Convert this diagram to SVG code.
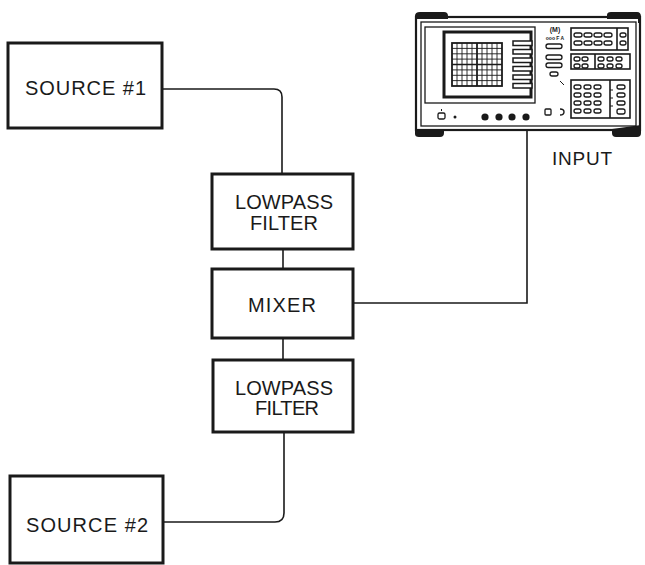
<svg xmlns="http://www.w3.org/2000/svg" width="645" height="565" viewBox="0 0 645 565">
<style>
.box{fill:#fff;stroke:#1a1a1a;stroke-width:3}
.wire{fill:none;stroke:#1a1a1a;stroke-width:1.6}
.lbl{font-family:"Liberation Sans",Arial,sans-serif;font-size:20px;fill:#1a1a1a;text-anchor:middle}
.ln{fill:none;stroke:#1a1a1a}
.ov{fill:#fff;stroke:#1a1a1a;stroke-width:1.3}
.tiny{font-family:"Liberation Sans",Arial,sans-serif;font-weight:bold;text-anchor:middle;fill:#1a1a1a}
</style>
<rect width="645" height="565" fill="#fff"/>
<g id="connectors">
<path class="wire" d="M162,89 H274 Q282,89 282,97 V174"/>
<path class="wire" d="M283,249 V269"/>
<path class="wire" d="M283,338 V360"/>
<path class="wire" d="M284,432 V513 Q284,522 275,522 H163"/>
<path class="wire" d="M353,303 H527 V131"/>
</g>
<g id="source1">
<rect class="box" x="8" y="43" width="154" height="85"/>
<text class="lbl" x="85.5" y="95" textLength="121" lengthAdjust="spacing">SOURCE #1</text>
</g>
<g id="filter1">
<rect class="box" x="212" y="174" width="141" height="75"/>
<text class="lbl" x="284" y="209" textLength="98" lengthAdjust="spacing">LOWPASS</text>
<text class="lbl" x="284" y="230" textLength="68" lengthAdjust="spacing">FILTER</text>
</g>
<g id="mixer">
<rect class="box" x="212" y="269" width="141" height="69"/>
<text class="lbl" x="282" y="312" textLength="68" lengthAdjust="spacing">MIXER</text>
</g>
<g id="filter2">
<rect class="box" x="213" y="360" width="140" height="72"/>
<text class="lbl" x="284" y="395" textLength="98" lengthAdjust="spacing">LOWPASS</text>
<text class="lbl" x="287" y="415" textLength="64" lengthAdjust="spacing">FILTER</text>
</g>
<g id="source2">
<rect class="box" x="10" y="476" width="153" height="87"/>
<text class="lbl" x="87" y="532" textLength="122" lengthAdjust="spacing">SOURCE #2</text>
</g>
<g id="analyzer">
<rect x="416" y="17" width="224" height="113" fill="#fff" stroke="#1a1a1a" stroke-width="2.2"/>
<path d="M415,22 V16 Q415,12 420,12 H444 Q448,12 448,16 V19 H415 Z" fill="#1a1a1a"/>
<path d="M607,19 V15 Q607,12 611,12 H637 Q641,12 641,17 V23 H638 V19 Z" fill="#1a1a1a"/>
<path d="M415,126 V134 Q415,137 419,137 H440 Q444,137 444,133 V129 H415 Z" fill="#1a1a1a"/>
<path d="M612,129 V133 Q612,137 616,137 H637 Q641,137 641,133 V125 Z" fill="#1a1a1a"/>
<rect x="421" y="22" width="215" height="104" class="ln" stroke-width="1.3"/>
<rect x="425" y="27" width="110" height="76" class="ln" stroke-width="1.3"/>
<rect x="444" y="32" width="87" height="65" class="ln" stroke-width="3"/>
<rect x="452" y="43" width="50" height="43" class="ln" stroke-width="1.8"/>
<g class="ln" stroke-width="0.9">
<path d="M457,43V86M462,43V86M467,43V86M472,43V86M477,43V86M482,43V86M487,43V86M492,43V86M497,43V86"/>
<path d="M452,48.4H502M452,53.8H502M452,59.1H502M452,64.5H502M452,69.9H502M452,75.3H502M452,80.6H502"/>
<path d="M452,64.5H502M477,43V86" stroke-width="1.6"/>
</g>
<g class="ln" stroke-width="1.5">
<rect x="513" y="41" width="19" height="4.5" fill="#fff"/>
<rect x="513" y="49.5" width="19" height="4.5" fill="#fff"/>
<rect x="513" y="58" width="19" height="4.5" fill="#fff"/>
<rect x="513" y="66.5" width="19" height="4.5" fill="#fff"/>
<rect x="513" y="75" width="19" height="4.5" fill="#fff"/>
<rect x="513" y="83.5" width="19" height="4.5" fill="#fff"/>
</g>
<rect x="438" y="113" width="7" height="6" rx="1.5" class="ov"/>
<path d="M441.5,109V111" class="ln" stroke-width="1"/>
<circle cx="455" cy="117" r="1.5" fill="#1a1a1a"/>
<circle cx="485" cy="117" r="3.6" fill="#1a1a1a"/>
<circle cx="499" cy="117" r="3.6" fill="#1a1a1a"/>
<circle cx="512" cy="117" r="3.6" fill="#1a1a1a"/>
<circle cx="526" cy="117" r="3.6" fill="#1a1a1a"/>
<text class="tiny" x="555" y="32" font-size="7">(M)</text>
<text class="tiny" x="555" y="40" font-size="5">ooo F A</text>
<rect x="546" y="44" width="16" height="4.5" rx="2.2" class="ov"/>
<rect x="546" y="55" width="16" height="4.5" rx="2.2" class="ov"/>
<rect x="546" y="63" width="16" height="4.5" rx="2.2" class="ov"/>
<rect x="550" y="72" width="8" height="4" rx="2" class="ov"/>
<path d="M560,81 L564,85" class="ln" stroke-width="1"/>
<rect x="545" y="109" width="6" height="6" rx="1" class="ov"/>
<path d="M560,109 q4,0 4,3 q0,3 -4,3" class="ln" stroke-width="1.4"/>
<g class="ln" stroke-width="1.6">
<rect x="571" y="28" width="57" height="22"/>
<path d="M617,28V50"/>
<rect x="571" y="54" width="59" height="15"/>
<path d="M595,54V69"/>
<rect x="571" y="80" width="59" height="38"/>
<path d="M610,80V118"/>
</g>
<g>
<rect x="574" y="33" width="8" height="4" rx="2" class="ov"/><rect x="584" y="33" width="8" height="4" rx="2" class="ov"/><rect x="594" y="33" width="8" height="4" rx="2" class="ov"/><rect x="604" y="33" width="8" height="4" rx="2" class="ov"/><rect x="620" y="33" width="6" height="4" rx="2" class="ov"/>
<rect x="574" y="41" width="8" height="4" rx="2" class="ov"/><rect x="584" y="41" width="8" height="4" rx="2" class="ov"/><rect x="594" y="41" width="8" height="4" rx="2" class="ov"/><rect x="604" y="41" width="8" height="4" rx="2" class="ov"/><rect x="620" y="41" width="6" height="4" rx="2" class="ov"/>
<rect x="574" y="57" width="6" height="4" rx="2" class="ov"/><rect x="582" y="57" width="6" height="4" rx="2" class="ov"/><rect x="598" y="57" width="6" height="4" rx="2" class="ov"/><rect x="607" y="57" width="6" height="4" rx="2" class="ov"/><rect x="616" y="57" width="6" height="4" rx="2" class="ov"/>
<rect x="574" y="64" width="6" height="4" rx="2" class="ov"/><rect x="582" y="64" width="6" height="4" rx="2" class="ov"/><rect x="598" y="64" width="6" height="4" rx="2" class="ov"/><rect x="607" y="64" width="6" height="4" rx="2" class="ov"/><rect x="616" y="64" width="6" height="4" rx="2" class="ov"/>
<rect x="574" y="85" width="7" height="4" rx="2" class="ov"/><rect x="584" y="85" width="7" height="4" rx="2" class="ov"/><rect x="594" y="85" width="7" height="4" rx="2" class="ov"/><rect x="617" y="85" width="8" height="4" rx="2" class="ov"/>
<rect x="574" y="93" width="7" height="4" rx="2" class="ov"/><rect x="584" y="93" width="7" height="4" rx="2" class="ov"/><rect x="594" y="93" width="7" height="4" rx="2" class="ov"/><rect x="617" y="93" width="8" height="4" rx="2" class="ov"/>
<rect x="574" y="101" width="7" height="4" rx="2" class="ov"/><rect x="584" y="101" width="7" height="4" rx="2" class="ov"/><rect x="594" y="101" width="7" height="4" rx="2" class="ov"/><rect x="617" y="101" width="8" height="4" rx="2" class="ov"/>
<rect x="574" y="109" width="7" height="4" rx="2" class="ov"/><rect x="584" y="109" width="7" height="4" rx="2" class="ov"/><rect x="594" y="109" width="7" height="4" rx="2" class="ov"/><rect x="617" y="109" width="8" height="5" rx="2" class="ov"/>
<path d="M610,90h3M610,98h3M610,106h3" class="ln" stroke-width="1"/>
</g>
<text class="lbl" x="582" y="165" style="font-size:19px" textLength="60" lengthAdjust="spacing">INPUT</text>
</g>
</svg>
